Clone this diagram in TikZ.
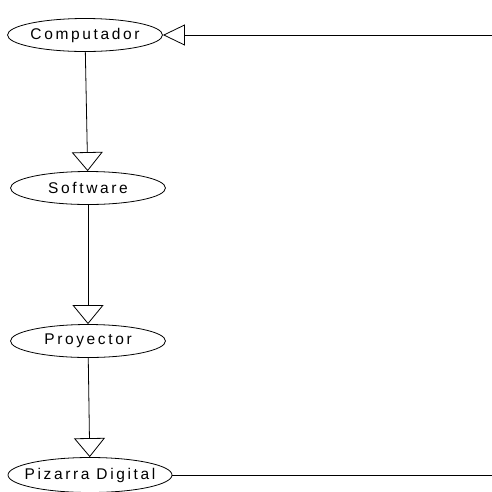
\documentclass[tikz,border=0pt]{standalone}
\usepackage{fontspec}
\setmainfont{Liberation Sans}
\usetikzlibrary{arrows.meta,shapes.geometric}

\begin{document}
\begin{tikzpicture}[x=1pt, y=-1pt, line width=0.8pt, every node/.style={
    ellipse,
    draw,
    inner sep=0pt,
    minimum width=155pt,
    minimum height=33pt,
    font=\fontsize{15.5}{18}\selectfont\addfontfeature{LetterSpace=17}
}]
    \useasboundingbox (0,0) rectangle (492,491);

    \node (computador) [shift={(85, 35)}]
    {
        \makebox[0pt]{Computador}
    };

    \node (software) [shift={(88, 188)}]
    {
        \makebox[0pt]{Software}
    };

    \node (proyector) [shift={(88, 341)}]
    {
        \makebox[0pt]{Proyector}
    };

    \node (pizarra_digital) [minimum width=164pt, minimum height=35pt, shift={(90, 475)}]
    {
        \makebox[0pt]{Pizarra Digital}
    };

    \coordinate (computador_in) at (492, 35);
    \coordinate (pizarra_digital_out) at (492, 475);

    \draw[-{Triangle[open, length=22pt, width=21pt]}] (computador_in) to (computador);
    \draw[-{Triangle[open, length=19pt, width=31pt]}] (computador) to (software);
    \draw[-{Triangle[open, length=19pt, width=31pt]}] (software) to (proyector);
    \draw[-{Triangle[open, length=19pt, width=31pt]}] (proyector) to (pizarra_digital);
    \draw (pizarra_digital) to (pizarra_digital_out);

\end{tikzpicture}
\end{document}
